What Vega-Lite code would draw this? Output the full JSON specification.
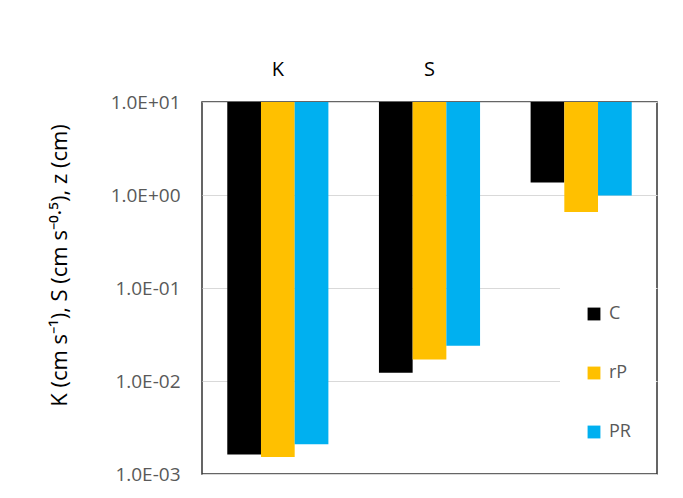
{
  "$schema": "https://vega.github.io/schema/vega-lite/v6.json",
  "width": 455,
  "height": 372,
  "autosize": {"type": "none"},
  "padding": {"left": 202, "top": 102, "right": 26, "bottom": 24},
  "background": "white",
  "config": {
    "font": "Open Sans",
    "view": {"stroke": "#333333", "strokeWidth": 1.5}
  },
  "data": {
    "values": [
      {"param": "K", "method": "C", "value": 0.00162},
      {"param": "K", "method": "rP", "value": 0.00152},
      {"param": "K", "method": "PR", "value": 0.00209},
      {"param": "S", "method": "C", "value": 0.0123},
      {"param": "S", "method": "rP", "value": 0.0170},
      {"param": "S", "method": "PR", "value": 0.0240},
      {"param": "z", "method": "C", "value": 1.36},
      {"param": "z", "method": "rP", "value": 0.656},
      {"param": "z", "method": "PR", "value": 0.99}
    ]
  },
  "mark": {"type": "bar"},
  "encoding": {
    "x": {
      "field": "param",
      "type": "nominal",
      "sort": ["K", "S", "z"],
      "scale": {"paddingInner": 0, "paddingOuter": 0},
      "axis": {
        "orient": "top",
        "title": null,
        "domain": false,
        "ticks": false,
        "labelAngle": 0,
        "labelFont": "Open Sans",
        "labelFontSize": 20,
        "labelColor": "#000000",
        "labelPadding": 23,
        "labelExpr": "datum.value == 'z' ? '' : datum.value"
      }
    },
    "xOffset": {
      "field": "method",
      "type": "nominal",
      "sort": ["C", "rP", "PR"],
      "scale": {"paddingInner": 0, "paddingOuter": 0.75}
    },
    "y": {
      "field": "value",
      "type": "quantitative",
      "scale": {"type": "log", "domain": [0.001, 10], "nice": false, "zero": false},
      "axis": {
        "values": [0.001, 0.01, 0.1, 1, 10],
        "labelExpr": "'1.0E' + (round(log(datum.value) / LN10) >= 0 ? '+' : '-') + '0' + abs(round(log(datum.value) / LN10))",
        "labelFont": "Open Sans",
        "labelFontSize": 19,
        "labelColor": "#595959",
        "labelPadding": 22,
        "ticks": false,
        "domain": false,
        "grid": true,
        "gridColor": "#d9d9d9",
        "gridWidth": 1.2,
        "title": "K (cm s⁻¹), S (cm s⁻⁰·⁵), z (cm)",
        "titleFont": "Open Sans",
        "titleFontSize": 22,
        "titleFontWeight": "normal",
        "titleColor": "#000000",
        "titlePadding": 39,
        "titleY": 163
      }
    },
    "y2": {"datum": 10},
    "color": {
      "field": "method",
      "type": "nominal",
      "sort": ["C", "rP", "PR"],
      "scale": {"domain": ["C", "rP", "PR"], "range": ["#000000", "#FFC000", "#00B0F0"]},
      "legend": {
        "title": null,
        "orient": "none",
        "legendX": 358,
        "legendY": 178,
        "padding": 25,
        "fillColor": "white",
        "symbolType": "square",
        "symbolSize": 165,
        "symbolStrokeWidth": 0,
        "labelFont": "Open Sans",
        "labelFontSize": 18,
        "labelColor": "#595959",
        "labelOffset": 6,
        "rowPadding": 41
      }
    }
  }
}
